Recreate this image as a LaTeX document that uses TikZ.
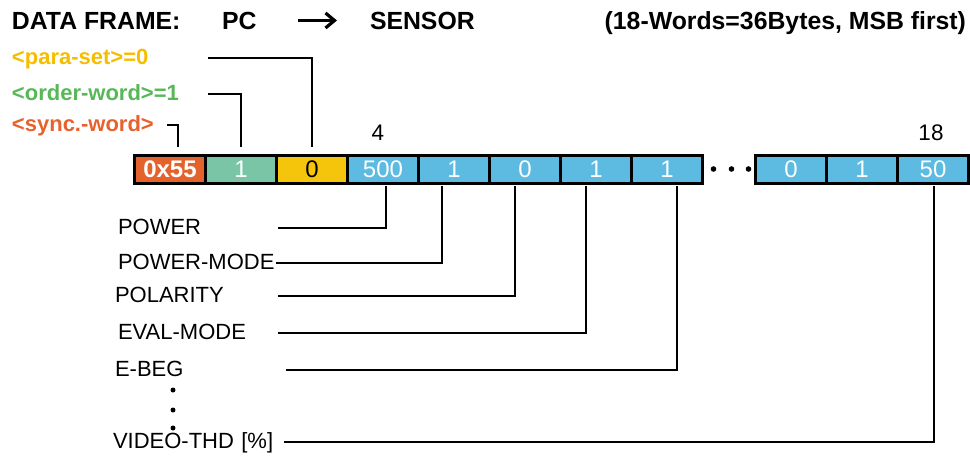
\documentclass[tikz,border=0pt]{standalone}
\usepackage{fontspec}
\setmainfont{Liberation Sans}
\usetikzlibrary{positioning,arrows.meta}
\definecolor{syncorange}{HTML}{E4622B}
\definecolor{ordergreen}{HTML}{7AC5A6}
\definecolor{parayellow}{HTML}{F4C50A}
\definecolor{wordblue}{HTML}{5DBAE0}
\definecolor{synctext}{HTML}{E8612C}
\definecolor{ordertext}{HTML}{57B857}
\definecolor{paratext}{HTML}{F5BD00}

\begin{document}
\begin{tikzpicture}[x=1pt, y=-1pt,
    every node/.style={inner sep=0pt, outer sep=0pt},
    title/.style={anchor=base west, font=\fontsize{24.8}{28}\selectfont\bfseries},
    tag/.style={anchor=west, align=left, text height=13pt, text depth=0pt,
      font=\fontsize{22}{26}\selectfont\bfseries},
    field/.style={anchor=west, align=left, text height=13pt, text depth=0pt,
      font=\fontsize{22}{26}\selectfont},
    word/.style={draw, line width=3pt, minimum width=71pt, minimum height=28pt,
      fill=wordblue, text=white, font=\fontsize{24}{26}\selectfont},
    link/.style={line width=1.2pt}]
  \useasboundingbox (0,0) rectangle (970,461);
  % Header
  \node[title] (frame) at (12,29) {DATA FRAME:};
  \node[title] (pc) at (222,29) {PC};
  \node[title] (sensor) at (370,29) {SENSOR};
  \node[title, anchor=base east] (size) at (966,29) {(18-Words=36Bytes, MSB first)};
  \draw[line width=3.2pt, -{Straight Barb[length=9pt,width=15pt]},
    shorten <=42pt, shorten >=33pt] (pc) -- (sensor);
  % Header words
  \node[tag, text=paratext, text width=196pt] (paraset) at (12,58) {<para-set>=0};
  \node[tag, text=ordertext, text width=196pt] (order) at (12,94) {<order-word>=1};
  \node[tag, text=synctext, text width=155pt] (sync) at (12,125) {<sync.-word>};
  % Data frame
  \node[word, fill=syncorange, font=\fontsize{24}{26}\selectfont\bfseries] (w1) at (170,169) {0x55};
  \node[word, fill=ordergreen, right=0pt of w1] (w2) {1};
  \node[word, fill=parayellow, text=black, right=0pt of w2] (w3) {0};
  \node[word, right=0pt of w3] (w4) {500};
  \node[word, right=0pt of w4] (w5) {1};
  \node[word, right=0pt of w5] (w6) {0};
  \node[word, right=0pt of w6] (w7) {1};
  \node[word, right=0pt of w7] (w8) {1};
  \node[word, right=53pt of w8] (w16) {0};
  \node[word, right=0pt of w16] (w17) {1};
  \node[word, right=0pt of w17] (w18) {50};
  \foreach \dx in {11,29,46}
    \fill ([xshift=\dx pt]w8.east) circle (2.8pt);
  \node[font=\fontsize{22.5}{26}\selectfont] (n4) at (378,133) {4};
  \node[font=\fontsize{22.5}{26}\selectfont] (n18) at (931,133) {18};
  \draw[link] (paraset.east) -| ([yshift=8pt]w3.north);
  \draw[link] (order.east) -| ([yshift=8pt]w2.north);
  \draw[link] (sync.east) -| ([xshift=8pt,yshift=8pt]w1.north);
  % Parameters
  \node[field, text width=160pt] (power) at (118,228) {POWER};
  \node[field, text width=158pt] (powermode) at (118,263) {POWER-MODE};
  \node[field, text width=163pt] (polarity) at (115,296) {POLARITY};
  \node[field, text width=160pt] (evalmode) at (118,333) {EVAL-MODE};
  \node[field, text width=171pt] (ebeg) at (115,370) {E-BEG};
  \node[field, text width=171pt] (videothd) at (113,442) {VIDEO-THD [\%]};
  \foreach \y in {390,410,428}
    \fill (173,\y) circle (2.5pt);
  \draw[link] (power.east) -| ([xshift=3pt,yshift=-3pt]w4.south);
  \draw[link] (powermode.east) -| ([xshift=-12pt,yshift=-3pt]w5.south);
  \draw[link] (polarity.east) -| ([xshift=-10pt,yshift=-3pt]w6.south);
  \draw[link] (evalmode.east) -| ([xshift=-10pt,yshift=-3pt]w7.south);
  \draw[link] (ebeg.east) -| ([xshift=10pt,yshift=-3pt]w8.south);
  \draw[link] (videothd.east) -| ([xshift=1pt,yshift=-3pt]w18.south);
\end{tikzpicture}
\end{document}
